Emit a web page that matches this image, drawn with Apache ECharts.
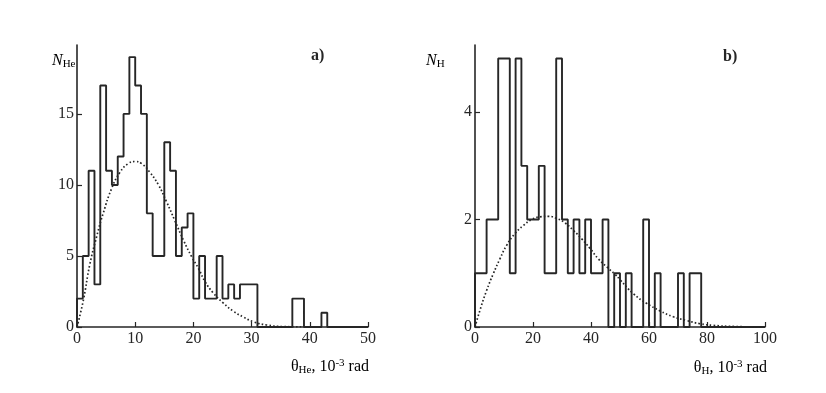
<!DOCTYPE html>
<html><head><meta charset="utf-8">
<script src="https://cdn.jsdelivr.net/npm/echarts@6/dist/echarts.min.js"></script>
<style>html,body{margin:0;padding:0;background:#fff}#c{width:826px;height:393px}</style>
</head><body><div id="c"></div>
<script>
// Panel a: counts per 1e-3 rad bin (bin width 1)
const binWidthA = 1;
const countsA = [2,5,11,3,17,11,10,12,15,19,17,15,8,5,5,13,11,5,7,8,2,5,2,2,5,2,3,2,3,3,3,0,0,0,0,0,0,2,2,0,0,0,1,0,0,0,0,0,0,0];
// Panel b: counts per 2e-3 rad bin
const binWidthB = 2;
const countsB = [1,1,2,2,5,5,1,5,3,2,2,3,1,1,5,2,1,2,1,2,1,1,2,0,1,0,1,0,0,2,0,1,0,0,0,1,0,1,1,0,0,0,0,0,0,0,0,0,0,0];
// Dotted fit curves
const curveAX = [0,1.1,2.2,3.4,4.5,6.0,7.4,8.8,10.0,11.1,12.5,14.0,15.4,16.8,18.3,19.7,20.9,22.0,23.4,25.1,26.9,28.6,30.3,32.6,35.4,40];
const curveAY = [0,1.9,4.4,6.4,8.0,9.8,10.9,11.5,11.65,11.5,10.9,10.0,8.8,7.5,6.1,4.95,4.1,3.2,2.4,1.7,1.1,0.7,0.37,0.14,0.03,0];
const curveBX = [0,1.7,4.0,6.3,8.6,10.9,13.8,16.7,19.5,22.4,25.3,28.2,31.0,33.9,36.8,39.7,42.5,45.4,48.3,50,54.6,59.2,63.8,68.4,73,77.6,82.2,89,99.4];
const curveBY = [0,0.31,0.68,0.99,1.27,1.52,1.74,1.89,2.0,2.05,2.06,2.02,1.94,1.8,1.64,1.46,1.27,1.12,0.98,0.88,0.62,0.44,0.3,0.19,0.12,0.06,0.03,0.01,0];
// Ticks
const yTicksA = [0,5,10,15];
const yTicksB = [0,2,4];

function stepPoints(counts, w) {
  const pts = [[0, 0]];
  counts.forEach((c, i) => pts.push([i * w, c]));
  pts.push([counts.length * w, counts[counts.length - 1]]);
  return pts;
}
function zip(xs, ys) { return xs.map((x, i) => [x, ys[i]]); }

const ink = '#262626';
const serif = 'Liberation Serif';
const axisLine = { lineStyle: { color: ink, width: 1.6 } };
const tick = { inside: true, length: 5, lineStyle: { color: ink, width: 1.2 } };
const lbl = { fontFamily: serif, fontSize: 16, color: ink };

function xAxis(idx, max, interval) {
  return { type: 'value', gridIndex: idx, min: 0, max: max, interval: interval,
    axisLine: axisLine, axisTick: tick, splitLine: { show: false },
    axisLabel: Object.assign({ margin: 4 }, lbl) };
}
function yAxis(idx, max, ticks) {
  return { type: 'value', gridIndex: idx, min: 0, max: max,
    axisLine: Object.assign({ show: true }, axisLine),
    axisTick: Object.assign({ customValues: ticks }, tick),
    splitLine: { show: false },
    axisLabel: Object.assign({ margin: 3, customValues: ticks }, lbl) };
}

const richBase = {
  m: { fontFamily: serif, fontSize: 16, color: ink, lineHeight: 18, verticalAlign: 'middle' },
  s: { fontFamily: serif, fontSize: 11, color: ink, lineHeight: 6, verticalAlign: 'bottom' },
  p: { fontFamily: serif, fontSize: 11, color: ink, lineHeight: 8, verticalAlign: 'top' },
  n: { fontFamily: serif, fontSize: 16, fontStyle: 'italic', color: ink, lineHeight: 18, verticalAlign: 'middle' }
};

const chart = echarts.init(document.getElementById('c'));
chart.setOption({
  backgroundColor: '#fff',
  animation: false,
  grid: [
    { left: 77, right: 458, top: 45, bottom: 66 },
    { left: 475, right: 61, top: 45, bottom: 66 }
  ],
  xAxis: [xAxis(0, 50, 10), xAxis(1, 100, 20)],
  yAxis: [yAxis(0, 19.85, yTicksA), yAxis(1, 5.25, yTicksB)],
  series: [
    { type: 'line', xAxisIndex: 0, yAxisIndex: 0, step: 'end', showSymbol: false,
      data: stepPoints(countsA, binWidthA), lineStyle: { color: ink, width: 1.9 } },
    { type: 'line', xAxisIndex: 0, yAxisIndex: 0, smooth: true, showSymbol: false,
      data: zip(curveAX, curveAY), lineStyle: { color: ink, width: 1.7, type: [1.6, 2.2] } },
    { type: 'line', xAxisIndex: 1, yAxisIndex: 1, step: 'end', showSymbol: false,
      data: stepPoints(countsB, binWidthB), lineStyle: { color: ink, width: 1.9 } },
    { type: 'line', xAxisIndex: 1, yAxisIndex: 1, smooth: true, showSymbol: false,
      data: zip(curveBX, curveBY), lineStyle: { color: ink, width: 1.7, type: [1.6, 2.2] } }
  ],
  graphic: [
    { type: 'text', left: 52, top: 53, style: { text: '{n|N}{s|He}', rich: richBase } },
    { type: 'text', left: 426, top: 53, style: { text: '{n|N}{s|H}', rich: richBase } },
    { type: 'text', left: 311, top: 48, style: { text: 'a)', fontFamily: serif, fontSize: 16, fontWeight: 'bold', fill: ink } },
    { type: 'text', left: 723, top: 49, style: { text: 'b)', fontFamily: serif, fontSize: 16, fontWeight: 'bold', fill: ink } },
    { type: 'text', right: 457, top: 358, style: { text: '{m|θ}{s|He}{m|, 10}{p|-3}{m| rad}', rich: richBase } },
    { type: 'text', right: 59, top: 359, style: { text: '{m|θ}{s|H}{m|, 10}{p|-3}{m| rad}', rich: richBase } }
  ]
});
</script></body></html>
